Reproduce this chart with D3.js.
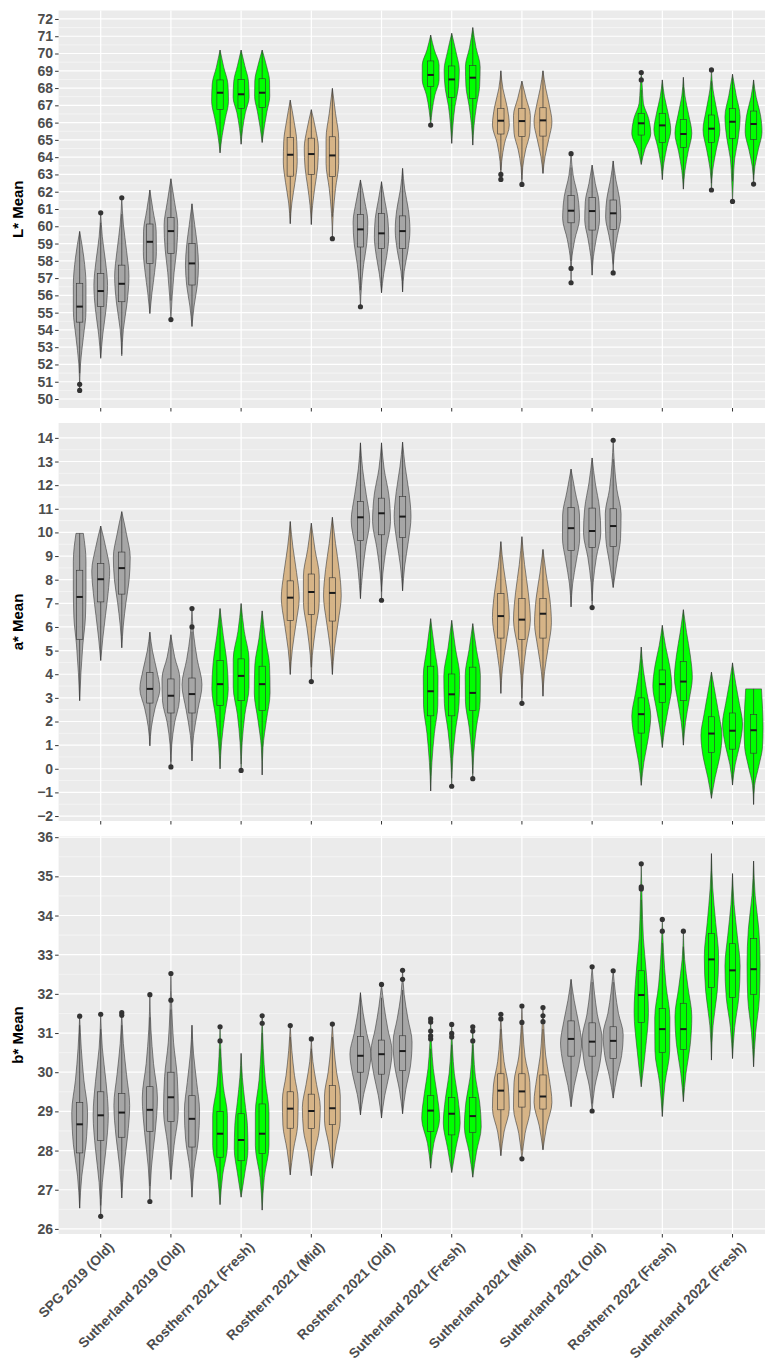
<!DOCTYPE html>
<html>
<head>
<meta charset="utf-8">
<script src="https://cdn.jsdelivr.net/npm/d3@7"></script>
<style>
html, body { margin: 0; padding: 0; background: #fff; }
svg { display: block; font-family: "Liberation Sans", Arial, sans-serif; }
</style>
</head>
<body>
<div id="chart"></div>
<script>
// categories on the x axis, 3 dodged violins in each
const groups = [
	'SPG 2019 (Old)', 'Sutherland 2019 (Old)', 'Rosthern 2021 (Fresh)', 'Rosthern 2021 (Mid)',
	'Rosthern 2021 (Old)', 'Sutherland 2021 (Fresh)', 'Sutherland 2021 (Mid)', 'Sutherland 2021 (Old)',
	'Rosthern 2022 (Fresh)', 'Sutherland 2022 (Fresh)'
];
const replicates = ['1', '2', '3'];

// ---- L* Mean ----
// violin extent [min, max]
const lRange = [
	[50.5, 59.7], [52.35, 60.8], [52.5, 61.65],
	[54.95, 62.1], [54.6, 62.75], [54.2, 61.3],
	[64.25, 70.2], [64.75, 70.2], [64.85, 70.2],
	[60.15, 67.3], [60.1, 66.75], [59.28, 67.98],
	[55.34, 62.68], [56.15, 62.58], [56.2, 63.35],
	[65.86, 71.07], [64.8, 71.17], [64.7, 71.5],
	[62.71, 69.0], [62.42, 68.4], [63.06, 69.0],
	[56.73, 64.2], [57.17, 63.54], [57.3, 63.78],
	[63.58, 68.9], [62.7, 68.47], [62.15, 68.62],
	[62.1, 69.05], [61.44, 68.8], [62.44, 68.47]
];
// relative density at 7 evenly spaced levels from min to max
const lShape = [
	[0, 0.08, 0.35, 0.6, 0.6, 0.4, 0], [0, 0.2, 0.5, 0.65, 0.45, 0.15, 0], [0, 0.15, 0.5, 0.68, 0.45, 0.15, 0],
	[0, 0.2, 0.45, 0.62, 0.6, 0.3, 0], [0, 0.12, 0.3, 0.55, 0.65, 0.35, 0], [0, 0.2, 0.5, 0.62, 0.5, 0.25, 0],
	[0, 0.2, 0.5, 0.8, 0.75, 0.35, 0], [0, 0.15, 0.4, 0.76, 0.7, 0.35, 0], [0, 0.2, 0.45, 0.72, 0.7, 0.4, 0],
	[0, 0.15, 0.45, 0.66, 0.62, 0.35, 0], [0, 0.12, 0.35, 0.6, 0.67, 0.4, 0], [0, 0.08, 0.3, 0.6, 0.6, 0.3, 0],
	[0, 0.1, 0.3, 0.6, 0.7, 0.4, 0], [0, 0.2, 0.5, 0.68, 0.6, 0.3, 0], [0, 0.15, 0.5, 0.7, 0.55, 0.2, 0],
	[0, 0.15, 0.4, 0.8, 0.8, 0.35, 0], [0, 0.12, 0.3, 0.62, 0.72, 0.4, 0], [0, 0.12, 0.35, 0.65, 0.7, 0.3, 0],
	[0, 0.08, 0.35, 0.8, 0.6, 0.2, 0], [0, 0.08, 0.35, 0.75, 0.8, 0.4, 0], [0, 0.2, 0.55, 0.85, 0.6, 0.25, 0],
	[0, 0.05, 0.35, 0.8, 0.65, 0.2, 0], [0, 0.12, 0.4, 0.7, 0.65, 0.3, 0], [0, 0.1, 0.4, 0.72, 0.6, 0.25, 0],
	[0, 0.35, 0.9, 0.7, 0.2, 0.1, 0], [0, 0.15, 0.45, 0.8, 0.55, 0.2, 0], [0, 0.15, 0.45, 0.8, 0.5, 0.15, 0],
	[0, 0.12, 0.45, 0.8, 0.5, 0.15, 0], [0, 0.08, 0.2, 0.55, 0.72, 0.35, 0], [0, 0.12, 0.45, 0.8, 0.65, 0.25, 0]
];
// boxplot [lower whisker, q1, median, q3, upper whisker]
const lBox = [
	[51.5, 54.45, 55.35, 56.7, 59.7], [52.4, 55.35, 56.25, 57.27, 60.2], [52.6, 55.63, 56.67, 57.75, 60.7],
	[54.95, 57.85, 59.1, 60.13, 62.1], [55.7, 58.43, 59.72, 60.51, 62.75], [54.2, 56.6, 57.85, 59.0, 61.3],
	[64.25, 66.77, 67.73, 68.47, 70.2], [64.75, 66.83, 67.64, 68.5, 70.2], [64.85, 66.88, 67.73, 68.54, 70.2],
	[60.15, 62.9, 64.14, 65.15, 67.3], [60.1, 63.0, 64.18, 65.1, 66.75], [60.55, 62.87, 64.1, 65.18, 67.98],
	[56.3, 58.8, 59.82, 60.69, 62.68], [56.15, 58.72, 59.59, 60.75, 62.58], [56.2, 58.72, 59.72, 60.6, 63.35],
	[66.15, 68.08, 68.76, 69.57, 71.07], [64.8, 67.46, 68.5, 69.28, 71.17], [64.7, 67.4, 68.6, 69.3, 71.5],
	[63.25, 65.34, 66.11, 66.83, 69.0], [62.7, 65.19, 66.09, 66.83, 68.4], [63.06, 65.22, 66.13, 66.86, 69.0],
	[58.0, 60.2, 60.9, 61.77, 63.4], [57.17, 59.78, 60.88, 61.67, 63.54], [57.8, 59.82, 60.75, 61.52, 63.78],
	[63.58, 65.28, 65.96, 66.54, 67.9], [62.7, 64.84, 65.84, 66.54, 68.47], [62.15, 64.57, 65.34, 66.19, 68.62],
	[62.5, 64.86, 65.65, 66.44, 68.4], [62.6, 65.09, 66.05, 66.83, 68.8], [62.7, 65.03, 65.92, 66.67, 68.47]
];
const lOut = [
	[50.85, 50.5], [60.78], [61.65],
	[], [54.6], [],
	[], [], [],
	[], [], [59.28],
	[55.34], [], [],
	[65.86], [], [],
	[63.0, 62.71], [62.42], [],
	[64.2, 57.56, 56.73], [], [57.3],
	[68.9, 68.47], [], [],
	[69.05, 62.1], [61.44], [62.44]
];
const lTicks = [50, 51, 52, 53, 54, 55, 56, 57, 58, 59, 60, 61, 62, 63, 64, 65, 66, 67, 68, 69, 70, 71, 72];

// ---- a* Mean ----
const aRange = [
	[2.88, 9.96], [4.58, 10.27], [5.12, 10.88],
	[0.97, 5.78], [0.08, 5.67], [0.33, 6.78],
	[0.0, 6.78], [-0.07, 6.99], [-0.26, 6.68],
	[3.99, 10.46], [3.69, 10.39], [3.99, 10.64],
	[7.2, 13.79], [7.13, 13.79], [7.53, 13.82],
	[-0.94, 6.35], [-0.74, 6.28], [-0.42, 6.14],
	[3.19, 9.61], [2.77, 9.82], [3.07, 9.28],
	[6.85, 12.68], [6.82, 13.15], [7.67, 13.9],
	[-0.7, 5.15], [0.9, 6.07], [1.0, 6.73],
	[-1.25, 4.09], [-0.69, 4.48], [-1.51, 3.38]
];
const aShape = [
	[0, 0.12, 0.3, 0.55, 0.6, 0.6, 0.35], [0, 0.2, 0.45, 0.7, 0.85, 0.5, 0], [0, 0.15, 0.4, 0.7, 0.8, 0.45, 0],
	[0, 0.15, 0.5, 0.95, 0.65, 0.25, 0], [0, 0.08, 0.35, 0.8, 0.85, 0.35, 0], [0, 0.15, 0.55, 0.95, 0.5, 0.15, 0],
	[0, 0.15, 0.45, 0.78, 0.65, 0.3, 0], [0, 0.1, 0.35, 0.75, 0.75, 0.3, 0], [0, 0.08, 0.4, 0.75, 0.7, 0.3, 0],
	[0, 0.2, 0.55, 0.85, 0.6, 0.25, 0], [0, 0.1, 0.4, 0.75, 0.75, 0.35, 0], [0, 0.2, 0.55, 0.84, 0.65, 0.3, 0],
	[0, 0.2, 0.5, 0.88, 0.55, 0.2, 0], [0, 0.12, 0.45, 0.85, 0.7, 0.25, 0], [0, 0.2, 0.55, 0.8, 0.6, 0.25, 0],
	[0, 0.12, 0.35, 0.68, 0.7, 0.35, 0], [0, 0.1, 0.35, 0.7, 0.75, 0.35, 0], [0, 0.1, 0.35, 0.7, 0.72, 0.35, 0],
	[0, 0.15, 0.5, 0.8, 0.6, 0.25, 0], [0, 0.1, 0.4, 0.8, 0.6, 0.25, 0], [0, 0.15, 0.5, 0.8, 0.65, 0.3, 0],
	[0, 0.15, 0.5, 0.82, 0.8, 0.4, 0], [0, 0.1, 0.4, 0.82, 0.7, 0.3, 0], [0, 0.35, 0.7, 0.75, 0.35, 0.12, 0],
	[0, 0.25, 0.65, 0.9, 0.55, 0.2, 0], [0, 0.25, 0.6, 0.9, 0.7, 0.3, 0], [0, 0.2, 0.55, 0.85, 0.65, 0.3, 0],
	[0, 0.35, 0.8, 1.0, 0.7, 0.35, 0], [0, 0.25, 0.7, 0.95, 0.65, 0.3, 0], [0, 0.1, 0.5, 0.85, 0.9, 0.85, 0.75]
];
const aBox = [
	[2.88, 5.47, 7.27, 8.4, 9.96], [4.58, 7.06, 8.02, 8.69, 10.27], [5.12, 7.39, 8.49, 9.17, 10.88],
	[0.97, 2.78, 3.38, 4.08, 5.78], [0.3, 2.36, 3.09, 3.8, 5.67], [0.33, 2.36, 3.16, 3.84, 5.8],
	[0.0, 2.67, 3.58, 4.58, 6.78], [0.2, 2.88, 3.93, 4.65, 6.99], [-0.26, 2.46, 3.58, 4.34, 6.68],
	[3.99, 6.28, 7.24, 7.95, 10.46], [4.3, 6.52, 7.48, 8.24, 10.39], [3.99, 6.25, 7.44, 8.08, 10.64],
	[7.2, 9.65, 10.64, 11.31, 13.79], [7.5, 9.9, 10.81, 11.45, 13.79], [7.53, 9.79, 10.67, 11.52, 13.82],
	[-0.94, 2.24, 3.28, 4.34, 6.35], [-0.4, 2.24, 3.15, 4.01, 6.28], [-0.2, 2.46, 3.21, 4.3, 6.14],
	[3.19, 5.53, 6.46, 7.41, 9.61], [3.0, 5.47, 6.31, 7.2, 9.82], [3.07, 5.53, 6.56, 7.2, 9.28],
	[6.85, 9.23, 10.18, 11.05, 12.68], [7.1, 9.37, 10.06, 11.03, 13.15], [7.67, 9.4, 10.27, 11.0, 13.1],
	[-0.7, 1.51, 2.31, 3.0, 5.15], [0.9, 2.81, 3.58, 4.18, 6.07], [1.0, 2.88, 3.69, 4.54, 6.73],
	[-1.25, 0.69, 1.49, 2.2, 4.09], [-0.69, 0.83, 1.61, 2.36, 4.48], [-1.51, 0.66, 1.63, 2.29, 3.38]
];
const aOut = [
	[], [], [],
	[], [0.08], [6.78, 6.0],
	[], [-0.07], [],
	[], [3.69], [],
	[], [7.13], [],
	[], [-0.74], [-0.42],
	[], [2.77], [],
	[], [6.82], [13.9],
	[], [], [],
	[], [], []
];
const aTicks = [-2, -1, 0, 1, 2, 3, 4, 5, 6, 7, 8, 9, 10, 11, 12, 13, 14];

// ---- b* Mean ----
const bRange = [
	[26.53, 31.43], [26.32, 31.48], [26.79, 31.52],
	[26.7, 31.98], [27.26, 32.52], [26.81, 31.2],
	[26.62, 31.16], [26.81, 30.48], [26.48, 31.44],
	[27.38, 31.19], [27.36, 30.85], [27.55, 31.23],
	[28.91, 32.03], [28.83, 32.24], [28.94, 32.6],
	[27.55, 31.36], [27.44, 31.22], [27.32, 31.16],
	[27.87, 31.48], [27.79, 31.69], [28.02, 31.65],
	[29.12, 32.37], [29.01, 32.69], [29.34, 32.59],
	[29.63, 35.32], [28.87, 33.9], [29.25, 33.6],
	[30.31, 35.58], [30.35, 35.07], [30.14, 35.39]
];
const bShape = [
	[0, 0.2, 0.6, 0.75, 0.4, 0.15, 0], [0, 0.15, 0.5, 0.72, 0.5, 0.15, 0], [0, 0.2, 0.55, 0.75, 0.45, 0.15, 0],
	[0, 0.15, 0.5, 0.72, 0.35, 0.1, 0], [0, 0.3, 0.7, 0.6, 0.25, 0.08, 0], [0, 0.2, 0.6, 0.72, 0.45, 0.15, 0],
	[0, 0.25, 0.7, 0.7, 0.3, 0.1, 0], [0, 0.35, 0.65, 0.6, 0.35, 0.12, 0], [0, 0.2, 0.65, 0.65, 0.3, 0.1, 0],
	[0, 0.3, 0.7, 0.75, 0.4, 0.15, 0], [0, 0.3, 0.75, 0.85, 0.5, 0.15, 0], [0, 0.35, 0.75, 0.75, 0.4, 0.15, 0],
	[0, 0.3, 0.75, 1.0, 0.6, 0.25, 0], [0, 0.3, 0.75, 1.0, 0.6, 0.25, 0], [0, 0.3, 0.75, 0.9, 0.5, 0.15, 0],
	[0, 0.3, 0.85, 0.6, 0.25, 0.08, 0], [0, 0.4, 0.8, 0.6, 0.25, 0.08, 0], [0, 0.35, 0.8, 0.65, 0.25, 0.08, 0],
	[0, 0.3, 0.8, 0.7, 0.3, 0.1, 0], [0, 0.3, 0.8, 0.75, 0.3, 0.1, 0], [0, 0.35, 0.85, 0.6, 0.25, 0.1, 0],
	[0, 0.3, 0.75, 1.0, 0.7, 0.3, 0], [0, 0.25, 0.75, 0.95, 0.5, 0.2, 0], [0, 0.35, 0.8, 0.95, 0.5, 0.2, 0],
	[0, 0.4, 0.68, 0.5, 0.2, 0.08, 0], [0, 0.25, 0.7, 0.72, 0.35, 0.12, 0], [0, 0.25, 0.65, 0.8, 0.45, 0.12, 0],
	[0, 0.15, 0.55, 0.68, 0.4, 0.12, 0], [0, 0.2, 0.6, 0.72, 0.45, 0.15, 0], [0, 0.2, 0.55, 0.62, 0.5, 0.15, 0]
];
const bBox = [
	[26.53, 27.94, 28.67, 29.23, 31.2], [26.6, 28.26, 28.9, 29.5, 31.1], [26.79, 28.34, 28.97, 29.46, 31.2],
	[27.1, 28.49, 29.04, 29.63, 31.4], [27.26, 28.74, 29.36, 30.0, 31.6], [26.81, 28.09, 28.81, 29.4, 31.2],
	[26.62, 27.83, 28.43, 29.0, 30.6], [26.81, 27.74, 28.27, 28.94, 30.48], [26.48, 27.92, 28.43, 29.19, 31.0],
	[27.38, 28.57, 29.07, 29.5, 30.9], [27.36, 28.56, 29.01, 29.44, 30.6], [27.55, 28.66, 29.08, 29.66, 30.9],
	[28.91, 30.0, 30.42, 30.91, 32.03], [28.83, 29.95, 30.46, 30.82, 31.9], [28.94, 30.04, 30.54, 30.93, 32.1],
	[27.55, 28.49, 29.02, 29.4, 30.6], [27.44, 28.4, 28.94, 29.35, 30.7], [27.32, 28.46, 28.88, 29.35, 30.7],
	[27.87, 29.04, 29.53, 29.96, 31.1], [28.0, 29.11, 29.51, 29.96, 31.2], [28.02, 29.06, 29.38, 29.93, 31.1],
	[29.12, 30.41, 30.85, 31.31, 32.37], [29.2, 30.41, 30.78, 31.26, 32.3], [29.34, 30.35, 30.8, 31.16, 32.3],
	[29.63, 31.27, 31.97, 32.59, 34.4], [28.87, 30.5, 31.1, 31.63, 33.3], [29.25, 30.58, 31.1, 31.76, 33.2],
	[30.31, 32.16, 32.88, 33.54, 35.58], [30.35, 31.91, 32.6, 33.28, 35.07], [30.14, 31.99, 32.63, 33.41, 35.39]
];
const bOut = [
	[31.43], [31.48, 26.32], [31.52, 31.45],
	[31.98, 26.7], [32.52, 31.84], [],
	[31.16, 30.8], [], [31.44, 31.25],
	[31.19], [30.85], [31.23],
	[], [32.24], [32.6, 32.37],
	[31.36, 31.28, 31.05, 30.93, 30.85], [31.22, 30.99, 30.9], [31.16, 31.05, 30.8],
	[31.48, 31.36], [31.69, 31.27, 27.79], [31.65, 31.44, 31.29],
	[], [32.69, 29.01], [32.59],
	[35.32, 34.73, 34.68], [33.9, 33.6], [33.6],
	[], [], []
];
const bTicks = [26, 27, 28, 29, 30, 31, 32, 33, 34, 35, 36];

const width = 765;
const height = 1365;
const plotLeft = 58.6;

const panels = [
	{ title: 'L* Mean', range: lRange, shape: lShape, box: lBox, out: lOut, ticks: lTicks, lims: [49.48, 72.49], top: 10.5, bottom: 408 },
	{ title: 'a* Mean', range: aRange, shape: aShape, box: aBox, out: aOut, ticks: aTicks, lims: [-2.21, 14.63], top: 423, bottom: 821 },
	{ title: 'b* Mean', range: bRange, shape: bShape, box: bBox, out: bOut, ticks: bTicks, lims: [25.87, 36.03], top: 836, bottom: 1234 }
];

const fill = d3.scaleOrdinal()
	.domain(['Fresh', 'Mid', 'Old'])
	.range(['#00ff00', '#d6b487', '#a6a6a6']);
const ageOf = name => name.match(/\((\w+)\)/)[1];

const svg = d3.select('#chart')
	.append('svg')
	.attr('width', width)
	.attr('height', height);

const x = d3.scaleBand()
	.domain(groups)
	.range([plotLeft, plotLeft + 10.2 * 70.2])
	.paddingInner(0)
	.paddingOuter(0.1);
const dodge = d3.scaleBand()
	.domain(replicates)
	.range([-0.45 * x.bandwidth(), 0.45 * x.bandwidth()]);
const halfWidth = d3.scaleLinear().domain([0, 1]).range([0, dodge.bandwidth() / 2]);
const boxHalf = dodge.bandwidth() * 0.15;

panels.forEach(p => {
	const y = d3.scaleLinear().domain(p.lims).range([p.bottom, p.top]);
	const [xa, xb] = x.range();
	const g = svg.append('g');

	g.append('rect')
		.attr('x', xa)
		.attr('y', p.top)
		.attr('width', xb - xa)
		.attr('height', p.bottom - p.top)
		.attr('fill', '#ebebeb');

	// minor then major grid
	const minor = p.ticks.slice(0, -1).map(t => t + 0.5);
	g.selectAll('line.minor')
		.data(minor)
		.join('line')
		.attr('class', 'minor')
		.attr('x1', xa).attr('x2', xb)
		.attr('y1', d => y(d)).attr('y2', d => y(d))
		.attr('stroke', '#fafafa')
		.attr('stroke-width', 0.6);
	g.selectAll('line.major')
		.data(p.ticks)
		.join('line')
		.attr('class', 'major')
		.attr('x1', xa).attr('x2', xb)
		.attr('y1', d => y(d)).attr('y2', d => y(d))
		.attr('stroke', '#fff')
		.attr('stroke-width', 1.2);
	g.selectAll('line.vgrid')
		.data(groups)
		.join('line')
		.attr('class', 'vgrid')
		.attr('x1', d => x(d) + x.bandwidth() / 2).attr('x2', d => x(d) + x.bandwidth() / 2)
		.attr('y1', p.top).attr('y2', p.bottom)
		.attr('stroke', '#fff')
		.attr('stroke-width', 1.2);

	// violins
	const violins = p.range.map((r, i) => {
		const grp = groups[Math.floor(i / 3)];
		const rep = replicates[i % 3];
		const cx = x(grp) + x.bandwidth() / 2 + dodge(rep) + dodge.bandwidth() / 2;
		const prof = p.shape[i];
		const pts = prof.map((w, k) => ({ v: r[0] + (r[1] - r[0]) * k / (prof.length - 1), w }));
		return { cx, pts, box: p.box[i], out: p.out[i], color: fill(ageOf(grp)) };
	});

	violins.forEach(d => {
		const area = d3.area()
			.curve(d3.curveMonotoneY)
			.y(e => y(e.v))
			.x0(e => d.cx - halfWidth(e.w))
			.x1(e => d.cx + halfWidth(e.w));

		g.append('path')
			.attr('d', area(d.pts))
			.attr('fill', d.color)
			.attr('stroke', '#3a3a3a')
			.attr('stroke-width', 0.6);

		const [wlo, q1, med, q3, whi] = d.box;
		g.append('line')
			.attr('x1', d.cx).attr('x2', d.cx)
			.attr('y1', y(wlo)).attr('y2', y(whi))
			.attr('stroke', '#333')
			.attr('stroke-width', 0.7);
		g.append('rect')
			.attr('x', d.cx - boxHalf)
			.attr('y', y(q3))
			.attr('width', boxHalf * 2)
			.attr('height', y(q1) - y(q3))
			.attr('fill', d.color)
			.attr('stroke', '#333')
			.attr('stroke-width', 0.6);
		g.append('line')
			.attr('x1', d.cx - boxHalf).attr('x2', d.cx + boxHalf)
			.attr('y1', y(med)).attr('y2', y(med))
			.attr('stroke', '#1a1a1a')
			.attr('stroke-width', 2);

		g.selectAll(null)
			.data(d.out)
			.enter()
			.append('circle')
			.attr('cx', d.cx)
			.attr('cy', v => y(v))
			.attr('r', 2.6)
			.attr('fill', '#333');
	});

	// axes
	const yAxis = g.append('g')
		.attr('transform', `translate(${xa},0)`)
		.call(d3.axisLeft(y).tickValues(p.ticks).tickSize(3.5).tickPadding(2));
	yAxis.select('.domain').remove();
	yAxis.selectAll('line').attr('stroke', '#333');
	yAxis.selectAll('text')
		.attr('fill', '#4d4d4d')
		.attr('font-size', 14)
		.attr('font-weight', 'bold')
		.attr('font-family', '"Liberation Sans", Arial, sans-serif');

	const xAxis = g.append('g')
		.attr('transform', `translate(0,${p.bottom})`)
		.call(d3.axisBottom(x).tickSize(3.5).tickFormat(''));
	xAxis.select('.domain').remove();
	xAxis.selectAll('line').attr('stroke', '#333');

	g.append('text')
		.attr('transform', `translate(18,${(p.top + p.bottom) / 2}) rotate(-90)`)
		.attr('text-anchor', 'middle')
		.attr('dy', '0.35em')
		.attr('font-size', 15)
		.attr('font-weight', 'bold')
		.attr('fill', '#000')
		.text(p.title);

	if (p === panels[panels.length - 1]) {
		g.selectAll('text.xlab')
			.data(groups)
			.join('text')
			.attr('class', 'xlab')
			.attr('transform', d => `translate(${x(d) + x.bandwidth() / 2 + 7},${p.bottom + 7}) rotate(-45)`)
			.attr('text-anchor', 'end')
			.attr('dy', '0.72em')
			.attr('font-size', 13.8)
			.attr('font-weight', 'bold')
			.attr('fill', '#4d4d4d')
			.text(d => d);
	}
});
</script>
</body>
</html>
